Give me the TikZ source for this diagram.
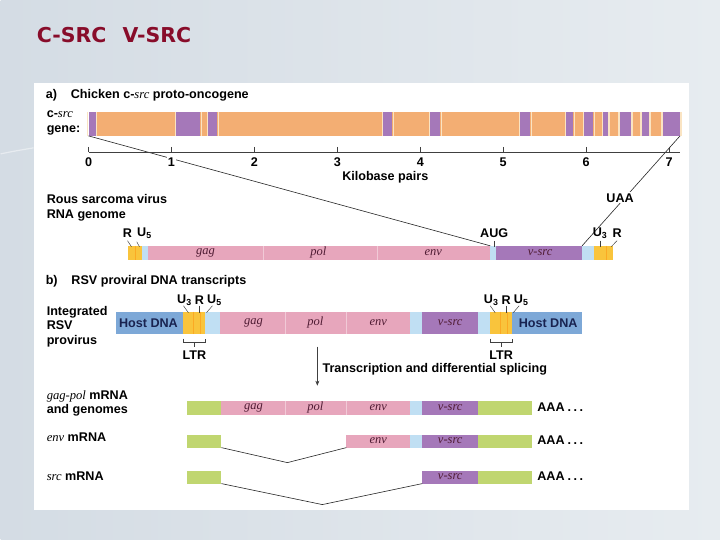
\documentclass[tikz,border=0pt]{standalone}
\usepackage{fontspec}
\setmainfont{Liberation Sans}
\newfontfamily\titlefont{DejaVu Sans}
\newfontfamily\genefont{Liberation Serif}
\usepackage{xcolor}
\usetikzlibrary{positioning, arrows.meta, calc}

\definecolor{bgleft}{RGB}{212,220,228}
\definecolor{bgright}{RGB}{231,236,240}
\definecolor{titlered}{RGB}{136,12,42}
\definecolor{intron}{RGB}{243,174,115}
\definecolor{exon}{RGB}{165,120,185}
\definecolor{pale}{RGB}{250,228,195}
\definecolor{genepink}{RGB}{231,166,188}
\definecolor{ltrblue}{RGB}{192,223,243}
\definecolor{ltryellow}{RGB}{249,196,60}
\definecolor{hostblue}{RGB}{125,168,215}
\definecolor{mrnagreen}{RGB}{192,214,112}
\definecolor{labeltext}{RGB}{80,28,52}
\definecolor{hosttext}{RGB}{25,35,80}

\begin{document}
\begin{tikzpicture}[x=1pt, y=-1pt, font=\bfseries\fontsize{12.6}{14.5}\selectfont]
        \tikzstyle{lbl} = [anchor=west, align=left, inner sep=0pt]
        \tikzstyle{gene} = [font=\genefont\itshape\fontsize{12.5}{13}\selectfont, text=labeltext]
        \tikzstyle{host} = [text=hosttext]
        \tikzstyle{link} = [black!85, line width=0.6pt]
        \tikzstyle{pin} = [black!75, line width=0.45pt]
        \tikzstyle{divider} = [genepink!60!white, line width=0.8pt]
        \tikzstyle{cut} = [ltryellow!60!orange, line width=0.5pt]
        \tikzstyle{tag} = [fill=white, inner sep=1pt]

        % slide background and panel
        \shade[left color=bgleft, right color=bgright] (0,0) rectangle (720,540);
        \draw[white, opacity=0.45, line width=1.2pt] (0,154) .. controls (15,151) .. (33,148);
        \fill[white] (33,83) rectangle (689,510);
        \node[anchor=west, inner sep=0pt, text=titlered, font=\titlefont\bfseries\fontsize{20.5}{24}\selectfont] (title) at (36,35) {C-SRC\hspace{0.8em}V-SRC};

        % a) c-src gene
        \node[lbl] (parta) at (45,95) {a)\hspace{1.1em}Chicken c-{\genefont\itshape\mdseries src} proto-oncogene};
        \node[lbl] (genelbl) at (46,123) {c-{\genefont\itshape\mdseries src}\\gene:};
        \fill[intron] (88,112) rectangle (680,136);
        \foreach \a/\b in {88/95, 176/200, 208/217, 383/392, 430/440, 520/530, 566/573, 584/593, 603/608, 620/631, 642/649, 663/680} {
            \draw[pale, line width=1.2pt] (\a-1,112) -- (\a-1,136) (\b+1,112) -- (\b+1,136);
            \fill[exon] (\a,112) rectangle (\b,136);
        }
        \coordinate (geneL) at (88,136);
        \coordinate (geneR) at (680,136);
        \coordinate (aug) at (490,246);
        \coordinate (uaa) at (582,246);
        \draw[link] (geneL) -- (aug);
        \draw[link] (geneR) -- (uaa);
        \draw[pin] (88,152) -- (680,152);
        \foreach \k in {0,...,7} {
            \draw[pin] ({88+83*\k},147) -- ({88+83*\k},152);
            \node[tag] (kb\k) at ({88+83*\k},162) {\k};
        }
        \node (kbp) at (385,177) {Kilobase pairs};

        % RSV RNA genome
        \node[lbl] (rsvlbl) at (46,208) {Rous sarcoma virus\\RNA genome};
        \fill[ltryellow] (128,246) rectangle (142,260);
        \fill[ltrblue] (142,246) rectangle (148,260);
        \fill[genepink] (148,246) rectangle (490,260);
        \fill[ltrblue] (490,246) rectangle (496,260);
        \fill[exon] (496,246) rectangle (582,260);
        \fill[ltrblue] (582,246) rectangle (594,260);
        \fill[ltryellow] (594,246) rectangle (613,260);
        \draw[divider] (263,246) -- (263,260) (377,246) -- (377,260);
        \draw[cut] (135,246) -- (135,260) (606,246) -- (606,260);
        \node[gene] (gag0) at (205,253) {gag};
        \node[gene] (pol0) at (318,253) {pol};
        \node[gene] (env0) at (433,253) {env};
        \node[gene] (vsrc0) at (540,253) {v-src};
        \node (r5) at (127,233) {R};
        \node (u5) at (144,233) {U\textsubscript{5}};
        \node (auglbl) at (494,233) {AUG};
        \node (u3) at (600,233) {U\textsubscript{3}};
        \node (r3) at (617,233) {R};
        \node[tag] (uaalbl) at (620,198) {UAA};
        \draw[pin] (r5.south) -- (131,247);
        \draw[pin] (u5.south west) ++(3,0) -- (139,247);
        \draw[pin] (auglbl.south) -- (494,247);
        \draw[pin] (u3.south) ++(0,-1) -- (600,247);
        \draw[pin] (r3.south) -- (611,247);

        % b) provirus
        \node[lbl] (partb) at (45,281) {b)\hspace{1.1em}RSV proviral DNA transcripts};
        \node[lbl] (provlbl) at (46,327) {Integrated\\RSV\\provirus};
        \fill[hostblue] (115,312) rectangle (183,334);
        \fill[ltryellow] (183,312) rectangle (205,334);
        \fill[ltrblue] (205,312) rectangle (220,334);
        \fill[genepink] (220,312) rectangle (410,334);
        \fill[ltrblue] (410,312) rectangle (422,334);
        \fill[exon] (422,312) rectangle (478,334);
        \fill[ltrblue] (478,312) rectangle (490,334);
        \fill[ltryellow] (490,312) rectangle (512,334);
        \fill[hostblue] (512,312) rectangle (582,334);
        \draw[divider] (285,312) -- (285,334) (346,312) -- (346,334);
        \draw[cut] (193,312) -- (193,334) (200,312) -- (200,334) (500,312) -- (500,334) (507,312) -- (507,334);
        \node[host] (hostL) at (148,323) {Host DNA};
        \node[host] (hostR) at (548,323) {Host DNA};
        \node[gene] (gag1) at (253,323) {gag};
        \node[gene] (pol1) at (315,323) {pol};
        \node[gene] (env1) at (378,323) {env};
        \node[gene] (vsrc1) at (450,323) {v-src};
        \foreach \x/\n in {0/L, 307/R} {
            \node (u3\n) at (184+\x,300) {U\textsubscript{3}};
            \node (r\n) at (199+\x,300) {R};
            \node (u5\n) at (214+\x,300) {U\textsubscript{5}};
            \draw[pin] (183+\x,306) -- (188+\x,313);
            \draw[pin] (199+\x,306) -- (199+\x,313);
            \draw[pin] (212+\x,306) -- (206+\x,313);
            \draw[pin] (183+\x,339) -- (183+\x,343) -- (205+\x,343) -- (205+\x,339) (194+\x,343) -- (194+\x,347);
            \node (ltr\n) at (194+\x,355) {LTR};
        }
        \coordinate (txtop) at (317,347);
        \coordinate (txbot) at (317,386);
        \draw[pin, -{Stealth[length=5pt, width=4pt]}] (txtop) -- (txbot);
        \node[lbl] (txlbl) at (322,370) {Transcription and differential splicing};

        % mRNAs
        \node[lbl] (mrna1) at (46,404) {{\genefont\itshape\mdseries gag-pol} mRNA\\and genomes};
        \node[lbl] (mrna2) at (46,438) {{\genefont\itshape\mdseries env} mRNA};
        \node[lbl] (mrna3) at (46,477) {{\genefont\itshape\mdseries src} mRNA};
        % gag-pol
        \fill[mrnagreen] (187,401) rectangle (221,415);
        \fill[genepink] (221,401) rectangle (410,415);
        \fill[ltrblue] (410,401) rectangle (422,415);
        \fill[exon] (422,401) rectangle (478,415);
        \fill[mrnagreen] (478,401) rectangle (532,415);
        \draw[divider] (285,401) -- (285,415) (346,401) -- (346,415);
        \node[gene] (gag2) at (253,408) {gag};
        \node[gene] (pol2) at (315,408) {pol};
        \node[gene] (env2) at (378,408) {env};
        \node[gene] (vsrc2) at (450,408) {v-src};
        \node[lbl] (aaa1) at (537,408) {AAA\hspace{3pt}.\hspace{2.5pt}.\hspace{2.5pt}.};
        % env
        \fill[mrnagreen] (187,435) rectangle (221,448);
        \fill[genepink] (346,435) rectangle (410,448);
        \fill[ltrblue] (410,435) rectangle (422,448);
        \fill[exon] (422,435) rectangle (478,448);
        \fill[mrnagreen] (478,435) rectangle (532,448);
        \node[gene] (env3) at (378,441) {env};
        \node[gene] (vsrc3) at (450,441) {v-src};
        \node[lbl] (aaa2) at (537,441) {AAA\hspace{3pt}.\hspace{2.5pt}.\hspace{2.5pt}.};
        \coordinate (lead2) at (221,448);
        \coordinate (kink2) at (287,463);
        \coordinate (exon2) at (346,448);
        \draw[link] (lead2) -- (kink2) -- (exon2);
        % src
        \fill[mrnagreen] (187,471) rectangle (221,484);
        \fill[exon] (422,471) rectangle (478,484);
        \fill[mrnagreen] (478,471) rectangle (532,484);
        \node[gene] (vsrc4) at (450,477) {v-src};
        \node[lbl] (aaa3) at (537,477) {AAA\hspace{3pt}.\hspace{2.5pt}.\hspace{2.5pt}.};
        \coordinate (lead3) at (221,484);
        \coordinate (kink3) at (322,505);
        \coordinate (exon3) at (422,484);
        \draw[link] (lead3) -- (kink3) -- (exon3);
\end{tikzpicture}
\end{document}
